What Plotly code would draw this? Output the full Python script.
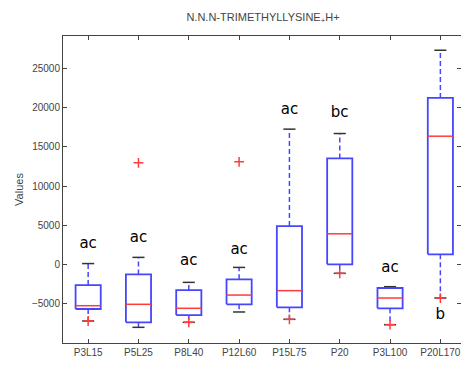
import plotly.graph_objects as go

categories = ["P3L15", "P5L25", "P8L40", "P12L60", "P15L75", "P20", "P3L100", "P20L170"]
q1 = [-5700, -7400, -6470, -5100, -5490, 0, -5610, 1275]
median = [-5280, -5100, -5610, -3920, -3360, 3900, -4300, 16360]
q3 = [-2640, -1280, -3280, -1910, 4890, 13520, -3020, 21250]
lower_whisker = [-7230, -8040, -7400, -6080, -7020, -1150, -7700, -4300]
upper_whisker = [100, 890, -2300, -390, 17260, 16700, -2850, 27330]
outlier_x = ["P3L15", "P5L25", "P8L40", "P12L60", "P15L75", "P20", "P3L100", "P20L170"]
outlier_y = [-7230, 12960, -7400, 13090, -7020, -1150, -7700, -4300]
letters = ["ac", "ac", "ac", "ac", "ac", "bc", "ac", "b"]
letter_y = [2590, 3350, 460, 1820, 19680, 19260, -510, -6470]
y_ticks = [-5000, 0, 5000, 10000, 15000, 20000, 25000]

pos = list(range(1, len(categories) + 1))
hw = 0.25   # box half width
cw = 0.12   # cap half width

bx, by, mx, my, wx, wy, cx, cy = [], [], [], [], [], [], [], []
for i, p in enumerate(pos):
    bx += [p - hw, p + hw, p + hw, p - hw, p - hw, None]
    by += [q1[i], q1[i], q3[i], q3[i], q1[i], None]
    mx += [p - hw, p + hw, None]
    my += [median[i], median[i], None]
    wx += [p, p, None, p, p, None]
    wy += [q3[i], upper_whisker[i], None, q1[i], lower_whisker[i], None]
    cx += [p - cw, p + cw, None, p - cw, p + cw, None]
    cy += [upper_whisker[i], upper_whisker[i], None, lower_whisker[i], lower_whisker[i], None]

blue = "rgb(70,70,255)"
red = "rgb(255,60,60)"

fig = go.Figure()
fig.add_trace(go.Scatter(x=wx, y=wy, mode="lines", line=dict(color=blue, width=1.5, dash="5px,3px"), hoverinfo="skip"))
fig.add_trace(go.Scatter(x=cx, y=cy, mode="lines", line=dict(color="#333", width=1.5), hoverinfo="skip"))
fig.add_trace(go.Scatter(x=bx, y=by, mode="lines", line=dict(color=blue, width=1.8), hoverinfo="skip"))
fig.add_trace(go.Scatter(x=mx, y=my, mode="lines", line=dict(color=red, width=1.5), hoverinfo="skip"))
ox = [pos[categories.index(c)] for c in outlier_x]
fig.add_trace(go.Scatter(x=ox, y=outlier_y, mode="markers",
                         marker=dict(symbol="cross-thin", size=7, line=dict(color=red, width=1.5)),
                         hoverinfo="skip"))
fig.add_trace(go.Scatter(x=pos, y=letter_y, mode="text", text=letters,
                         textfont=dict(family="DejaVu Sans, sans-serif", size=15, color="black"),
                         hoverinfo="skip"))

axis_font = dict(family="Liberation Sans, Arial, sans-serif", size=10, color="#444")
fig.update_layout(
    width=461, height=366,
    margin=dict(l=63, r=0, t=36, b=23),
    paper_bgcolor="white", plot_bgcolor="white",
    showlegend=False,
    font=axis_font,
    title=dict(text="N.N.N-TRIMETHYLLYSINE<sub>+</sub>H+", x=263 / 461, xanchor="center", y=1 - 17 / 366, yanchor="middle",
               font=dict(family="Liberation Sans, Arial, sans-serif", size=11, color="#444")),
)
fig.update_xaxes(range=[0.5, 8.41], tickvals=pos, ticktext=categories, ticks="inside", ticklen=4,
                 tickcolor="#444", showline=True, linecolor="#444", linewidth=1, mirror="ticks",
                 showgrid=False, zeroline=False, tickfont=axis_font, automargin=False)
fig.update_yaxes(range=[-10040, 29150], tickvals=y_ticks, tickformat="d", ticks="inside", ticklen=4,
                 tickcolor="#444", showline=True, linecolor="#444", linewidth=1, mirror="ticks",
                 showgrid=False, zeroline=False, tickfont=axis_font, automargin=False,
                 title=dict(text="Values", font=dict(family="Liberation Sans, Arial, sans-serif", size=11, color="#444"), standoff=6))

fig.write_html("out.html", config={"displayModeBar": False},
               post_script="document.body.style.margin='0';document.body.style.overflow='hidden';")
